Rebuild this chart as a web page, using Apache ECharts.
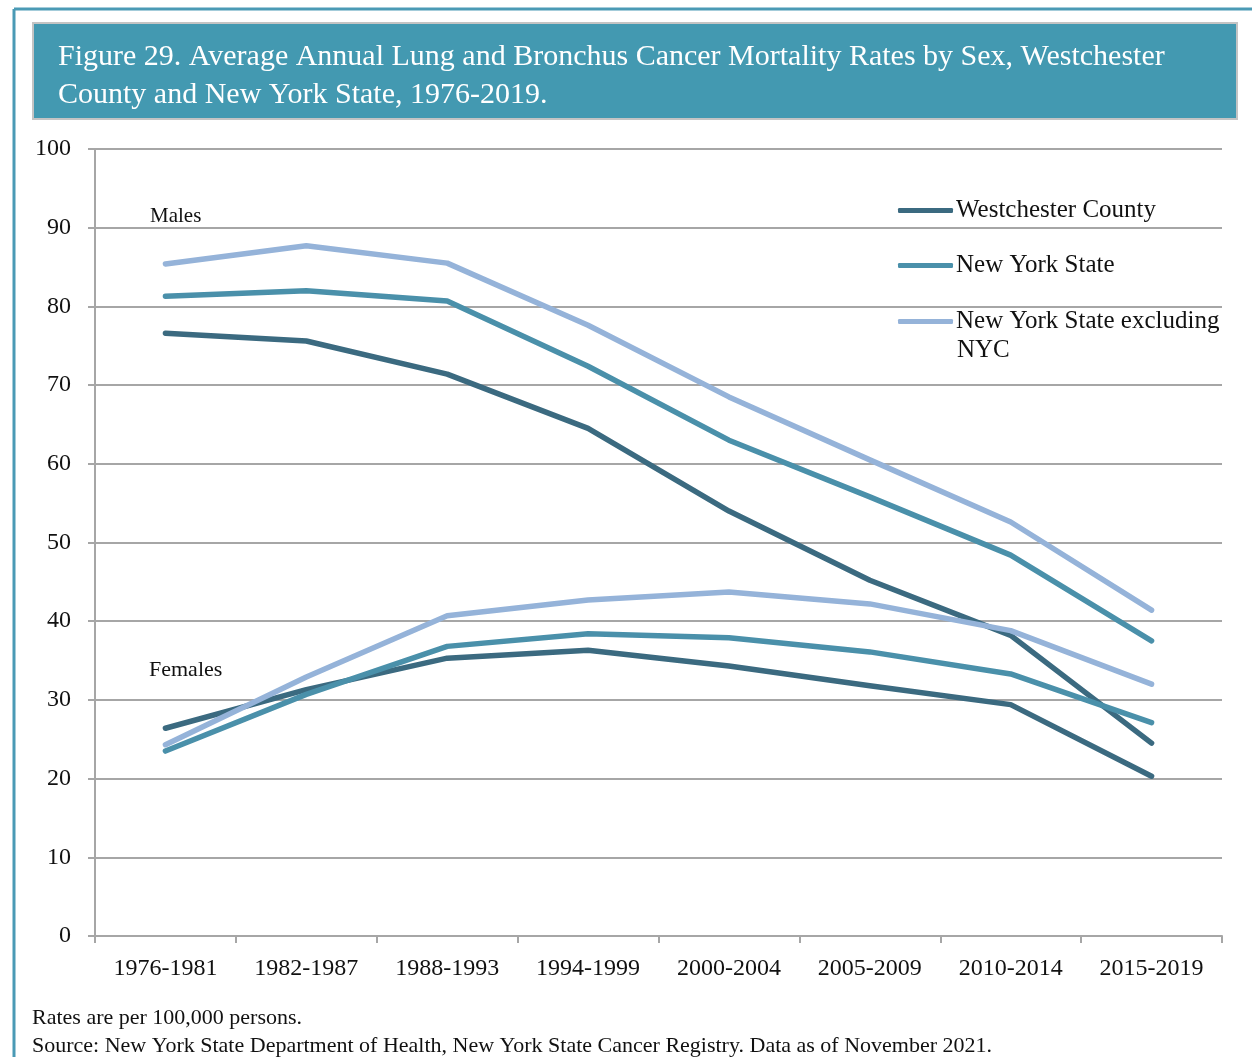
<!DOCTYPE html>
<html>
<head>
<meta charset="utf-8">
<script src="https://cdn.jsdelivr.net/npm/echarts@6/dist/echarts.min.js"></script>
<style>
  html, body { margin: 0; padding: 0; background: #fff; }
  #chart { width: 1252px; height: 1057px; }
</style>
</head>
<body>
<div id="chart"></div>
<script>
const periods = ["1976-1981", "1982-1987", "1988-1993", "1994-1999", "2000-2004", "2005-2009", "2010-2014", "2015-2019"];

// males
const westMale = [76.6, 75.6, 71.4, 64.5, 54.0, 45.2, 38.2, 24.5];
const nysMale = [81.3, 82.0, 80.7, 72.4, 63.0, 55.8, 48.4, 37.5];
const nysExMale = [85.4, 87.7, 85.5, 77.6, 68.5, 60.5, 52.6, 41.4];

// females
const westFemale = [26.4, 31.3, 35.3, 36.3, 34.3, 31.8, 29.4, 20.3];
const nysFemale = [23.5, 30.7, 36.8, 38.4, 37.9, 36.1, 33.3, 27.1];
const nysExFemale = [24.3, 32.9, 40.7, 42.7, 43.7, 42.2, 38.8, 32.0];

const yTicks = [0, 10, 20, 30, 40, 50, 60, 70, 80, 90, 100];

const names = ["Westchester County", "New York State", "New York State excluding NYC"];
const colors = ["#3b6a80", "#4a90aa", "#95b3d9"];

const font = "'Liberation Serif', 'DejaVu Serif', serif";
const gridColor = "#a6a6a6";

const chart = echarts.init(document.getElementById("chart"));

function line(name, data, color) {
  return {
    name: name,
    type: "line",
    data: data,
    showSymbol: false,
    symbol: "none",
    color: color,
    lineStyle: { width: 5.5, color: color, cap: "round", join: "round" },
    animation: false,
  };
}

function legendItem(name, top, extra) {
  return Object.assign({
    left: 893,
    top: top,
    orient: "vertical",
    itemWidth: 55,
    itemHeight: 5,
    itemGap: 0,
    icon: "roundRect",
    data: [name],
    textStyle: { fontFamily: font, fontSize: 25, color: "#111", padding: [0, 0, 0, -2] },
  }, extra || {});
}

chart.setOption({
  backgroundColor: "#fff",
  textStyle: { fontFamily: font },
  title: {
    text: "Figure 29. Average Annual Lung and Bronchus Cancer Mortality Rates by Sex, Westchester\nCounty and New York State, 1976-2019.",
    left: 53,
    top: 33,
    textStyle: { color: "#fff", fontFamily: font, fontSize: 30, fontWeight: "normal", lineHeight: 38 },
  },
  legend: [
    legendItem(names[0], 193),
    legendItem(names[1], 248),
    legendItem(names[2], 304, {
      formatter: function () { return "New York State excluding"; },
    }),
  ],
  grid: { left: 95, right: 30, top: 149, bottom: 121 },
  xAxis: {
    type: "category",
    data: periods,
    boundaryGap: true,
    axisLine: { lineStyle: { color: gridColor, width: 2 } },
    axisTick: { show: true, length: 7, lineStyle: { color: gridColor, width: 2 } },
    axisLabel: { color: "#111", fontFamily: font, fontSize: 24, margin: 21 },
  },
  yAxis: {
    type: "value",
    min: yTicks[0],
    max: yTicks[yTicks.length - 1],
    interval: 10,
    axisLine: { show: true, lineStyle: { color: gridColor, width: 2 } },
    axisTick: { show: true, length: 7, lineStyle: { color: gridColor, width: 2 } },
    axisLabel: { color: "#111", fontFamily: font, fontSize: 24, margin: 24 },
    splitLine: { lineStyle: { color: gridColor, width: 2 } },
  },
  graphic: [
    { type: "line", shape: { x1: 14, y1: 9, x2: 1252, y2: 9 }, style: { stroke: "#4a9ab5", lineWidth: 3 } },
    { type: "line", shape: { x1: 14, y1: 9, x2: 14, y2: 1057 }, style: { stroke: "#4a9ab5", lineWidth: 3 } },
    { type: "rect", z: -1, shape: { x: 33, y: 23, width: 1204, height: 96 }, style: { fill: "#4399b1", stroke: "#c4c4c4", lineWidth: 2 } },
    { type: "text", left: 957, top: 338, style: { text: "NYC", font: "25px " + font, fill: "#111" } },
    { type: "text", left: 150, top: 206, style: { text: "Males", font: "21px " + font, fill: "#111" } },
    { type: "text", left: 149, top: 659, style: { text: "Females", font: "22px " + font, fill: "#111" } },
    { type: "text", left: 32, top: 1007, style: { text: "Rates are per 100,000 persons.", font: "22px " + font, fill: "#111" } },
    { type: "text", left: 32, top: 1035, style: { text: "Source: New York State Department of Health, New York State Cancer Registry. Data as of November 2021.", font: "22px " + font, fill: "#111" } },
  ],
  series: [
    line(names[0], westMale, colors[0]),
    line(names[1], nysMale, colors[1]),
    line(names[2], nysExMale, colors[2]),
    line(names[0], westFemale, colors[0]),
    line(names[1], nysFemale, colors[1]),
    line(names[2], nysExFemale, colors[2]),
  ],
});
</script>
</body>
</html>
